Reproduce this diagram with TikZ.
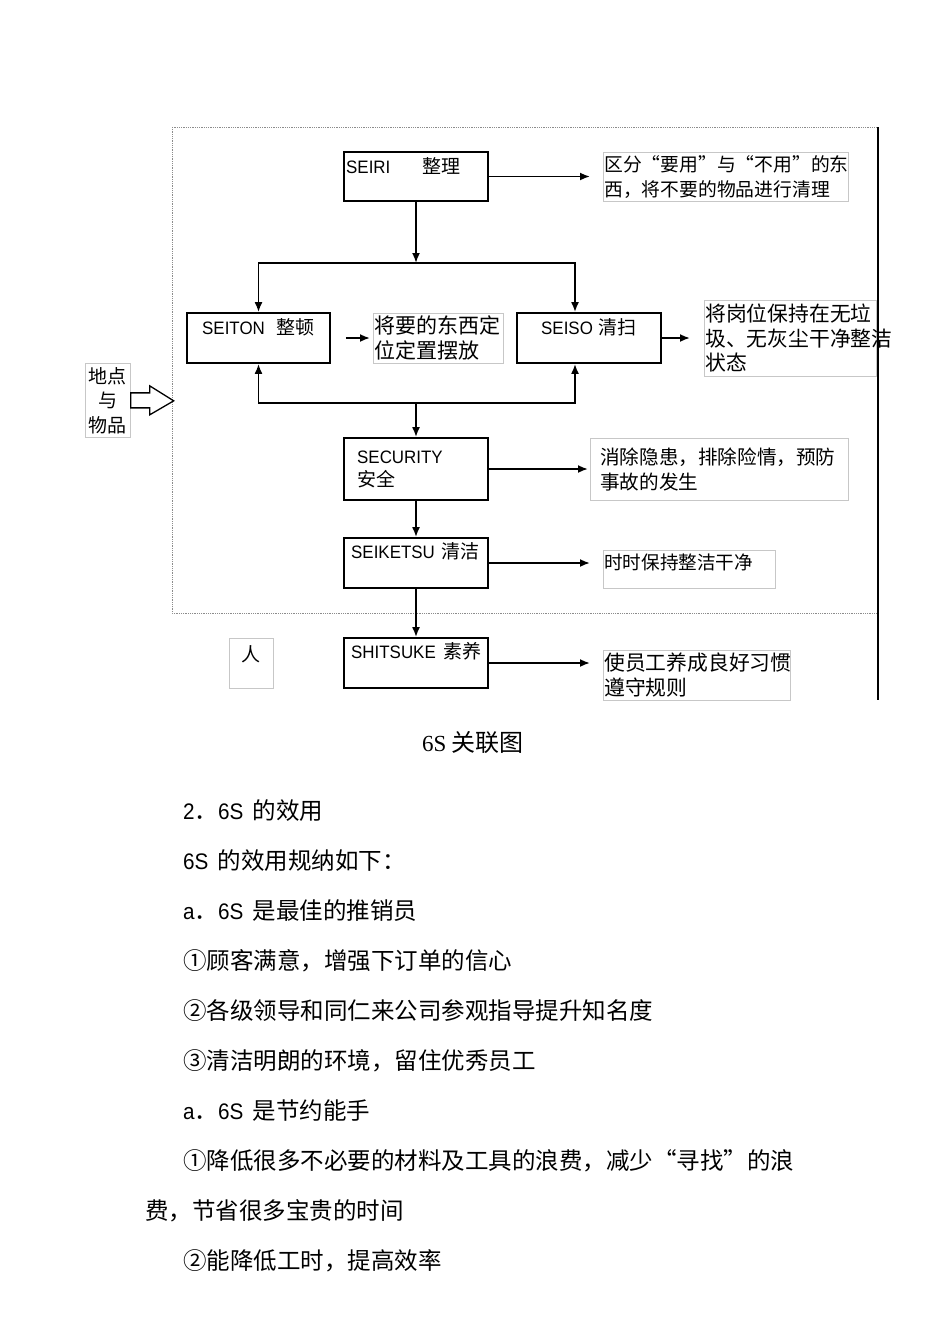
\documentclass[tikz,border=0pt]{standalone}
\usepackage{fontspec}
\setmainfont{Liberation Serif}
\newfontfamily\cjk{Noto Sans CJK SC}
\newfontfamily\lat[FakeStretch=0.94]{Liberation Sans}
\newfontfamily\latb[FakeStretch=0.92]{Liberation Sans}
\usetikzlibrary{arrows.meta}

\newcommand{\bx}[1]{{\cjk\fontsize{19}{23}\selectfont #1}}
\newcommand{\en}[1]{{\latb\fontsize{22.5}{30}\selectfont #1}}
\newcommand{\fq}[1]{{\addfontfeature{CharacterWidth=Full}#1}}

\begin{document}
\begin{tikzpicture}[x=1pt,y=-1pt,
  stepbox/.style={draw,line width=1.8pt,minimum width=144pt,minimum height=50pt,inner sep=0pt},
  steptext/.style={anchor=west,inner sep=0pt,align=left,font=\lat\fontsize{18}{23}\selectfont},
  descbox/.style={draw=black!22,line width=0.7pt,anchor=north west,inner sep=1pt,align=left},
  arr/.style={-{Latex[length=10pt,width=8pt]},line width=1.8pt},
  bodytext/.style={anchor=west,inner sep=0pt,font=\cjk\fontsize{23.5}{30}\selectfont}]
\useasboundingbox (0,0) rectangle (950,1344);

\draw[densely dotted,black!45,line width=0.8pt] (172,127) rectangle (877,613);
\draw[line width=1.3pt] (878,127)--(878,700);

\node[stepbox,minimum height=49pt] (seiri) at (416,176.5) {};
\node[stepbox,minimum width=143pt] (seiton) at (258.5,338) {};
\node[stepbox] (seiso) at (589,338) {};
\node[stepbox,minimum height=62pt] (security) at (416,469) {};
\node[stepbox] (seiketsu) at (416,563) {};
\node[stepbox] (shitsuke) at (416,663) {};

\node[steptext] (seiri txt) at (346,166) {SEIRI\hspace{32pt}\bx{整理}};
\node[steptext] (seiton txt) at (202,327) {SEITON\hspace{12pt}\bx{整顿}};
\node[steptext] (seiso txt) at (541,327) {SEISO\hspace{6pt}\bx{清扫}};
\node[steptext] (security txt) at (357,469) {SECURITY\\\bx{安全}};
\node[steptext] (seiketsu txt) at (351,551) {SEIKETSU\hspace{7pt}\bx{清洁}};
\node[steptext] (shitsuke txt) at (351,651) {SHITSUKE\hspace{8pt}\bx{素养}};

\node[descbox,text width=243pt,minimum height=49pt,font=\cjk\fontsize{18.8}{25}\selectfont] (seiri desc) at (603,152)
  {区分\fq{“}要用\fq{”}与\fq{“}不用\fq{”}的东\\西，将不要的物品进行清理};
\node[descbox,text width=128pt,minimum height=50pt,font=\cjk\fontsize{21}{25}\selectfont] (seiton desc) at (373,313)
  {将要的东西定\\位定置摆放};
\node[descbox,text width=170pt,minimum height=76pt,font=\cjk\fontsize{20.8}{24.5}\selectfont] (seiso desc) at (704,300)
  {将岗位保持在无垃\\圾、无灰尘干净整洁\\状态};
\node[descbox,inner xsep=10pt,text width=238pt,minimum height=62pt,font=\cjk\fontsize{19.6}{25}\selectfont] (security desc) at (590,438)
  {消除隐患，排除险情，预防\\事故的发生};
\node[descbox,text width=170pt,text height=18pt,text depth=18pt,font=\cjk\fontsize{18.6}{25}\selectfont] (seiketsu desc) at (603,550)
  {时时保持整洁干净};
\node[descbox,text width=185pt,minimum height=50pt,font=\cjk\fontsize{20.8}{25}\selectfont] (shitsuke desc) at (603,650)
  {使员工养成良好习惯\\遵守规则};

\node[descbox,align=center,text width=43pt,minimum height=74pt,font=\cjk\fontsize{19}{24.5}\selectfont] (place) at (85,363)
  {地点\\与\\物品};
\node[descbox,align=center,text width=42pt,text height=22pt,text depth=26pt,font=\cjk\fontsize{19}{24}\selectfont] (person) at (229,638)
  {人};

\draw[line width=1.3pt,fill=white] ([yshift=7.5pt]place.east)--++(19,0)--++(0,-7)--++(24,15)--++(-24,14)--++(0,-7)--++(-19,0)--cycle;

\coordinate (split) at (416,263);
\coordinate (rtop) at (575,263);
\coordinate (merge) at (416,403);
\coordinate (rbot) at (575,403);

\draw[arr] (seiri)--(split);
\draw[arr] (split)-|(seiton);
\draw[arr] (split)--(rtop)--(rtop |- seiso.north);
\draw[arr] (merge)-|(seiton);
\draw[arr] (merge)--(rbot)--(rbot |- seiso.south);
\draw[arr] (merge)--(security);
\draw[arr] (security)--(seiketsu);
\draw[arr] (seiketsu)--(shitsuke);

\draw[arr,shorten >=13pt] (seiri.east)--(seiri.east -| seiri desc.west);
\draw[arr,shorten <=15pt,shorten >=3pt] (seiton.east)--(seiton.east -| seiton desc.west);
\draw[arr,shorten >=14pt] (seiso.east)--(seiso.east -| seiso desc.west);
\draw[arr,shorten >=2pt] (security.east)--(security.east -| security desc.west);
\draw[arr,shorten >=13pt] (seiketsu.east)--(seiketsu.east -| seiketsu desc.west);
\draw[arr,shorten >=13pt] (shitsuke.east)--(shitsuke.east -| shitsuke desc.west);

\node[font=\cjk\fontsize{24}{24}\selectfont] (caption) at (473,743) {{\rmfamily\fontsize{23}{24}\selectfont 6S} 关联图};

\node[bodytext] (line a) at (183,811) {\en{2}．\en{6S}\hspace{9pt}的效用};
\node[bodytext] (line b) at (183,861) {\en{6S}\hspace{9pt}的效用规纳如下：};
\node[bodytext] (line c) at (183,911) {\en{a}．\en{6S}\hspace{9pt}是最佳的推销员};
\node[bodytext] (line d) at (183,961) {①顾客满意，增强下订单的信心};
\node[bodytext] (line e) at (183,1011) {②各级领导和同仁来公司参观指导提升知名度};
\node[bodytext] (line f) at (183,1061) {③清洁明朗的环境，留住优秀员工};
\node[bodytext] (line g) at (183,1111) {\en{a}．\en{6S}\hspace{9pt}是节约能手};
\node[bodytext] (line h) at (183,1161) {①降低很多不必要的材料及工具的浪费，减少\fq{“}寻找\fq{”}的浪};
\node[bodytext] (line i) at (145,1211) {费，节省很多宝贵的时间};
\node[bodytext] (line j) at (183,1261) {②能降低工时，提高效率};
\end{tikzpicture}
\end{document}
